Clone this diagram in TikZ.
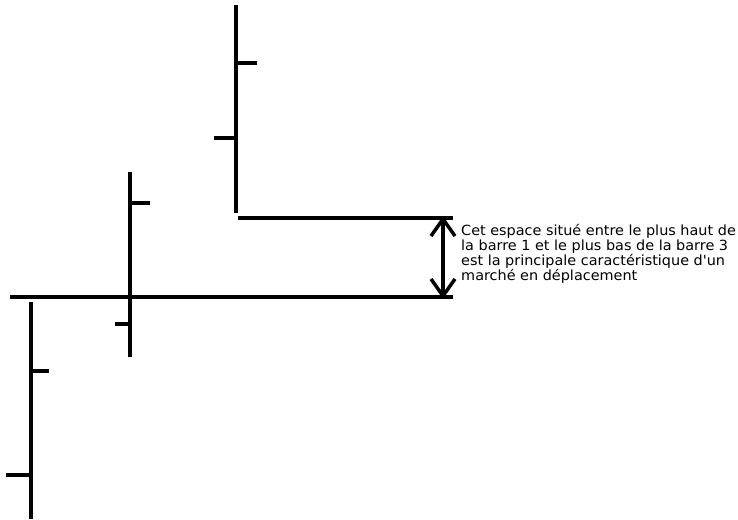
\documentclass[tikz,border=0pt]{standalone}
\usepackage{fontspec}
\usepackage{tikz}
\usetikzlibrary{arrows.meta}
\setmainfont{DejaVu Sans}
\newfontfamily\notefont[FakeStretch=1.03]{DejaVu Sans}

\tikzset{bar/.style={line width=3.5pt}}

\begin{document}
\begin{tikzpicture}[x=1pt,y=-1pt]
\useasboundingbox (0,0) rectangle (738,519);

% barre 3
\draw[bar] (236,5) -- (236,213);
\draw[bar] (236,63) -- (257,63);
\draw[bar] (214,138) -- (236,138);

% barre 2
\draw[bar] (130,172) -- (130,357);
\draw[bar] (130,203) -- (150,203);
\draw[bar] (115,324) -- (130,324);

% barre 1
\draw[bar] (31,302) -- (31,519);
\draw[bar] (31,371) -- (49,371);
\draw[bar] (6,475) -- (31,475);

% niveaux
\coordinate (haut) at (443,218);
\coordinate (bas) at (443,297);
\draw[bar] (238,218) -- (453,218);
\draw[bar] (10,297) -- (453,297);
\draw[bar,{Straight Barb[length=17pt,width=24pt]}-{Straight Barb[length=17pt,width=24pt]}] ([yshift=2pt]haut) -- ([yshift=-2pt]bas);

\node[anchor=north west,align=left,inner sep=0pt,font=\notefont\fontsize{14}{15}\selectfont] (texte) at (461,224)
{Cet espace situé entre le plus haut de\\la barre 1 et le plus bas de la barre 3\\est la principale caractéristique d'un\\marché en déplacement};

\end{tikzpicture}
\end{document}
